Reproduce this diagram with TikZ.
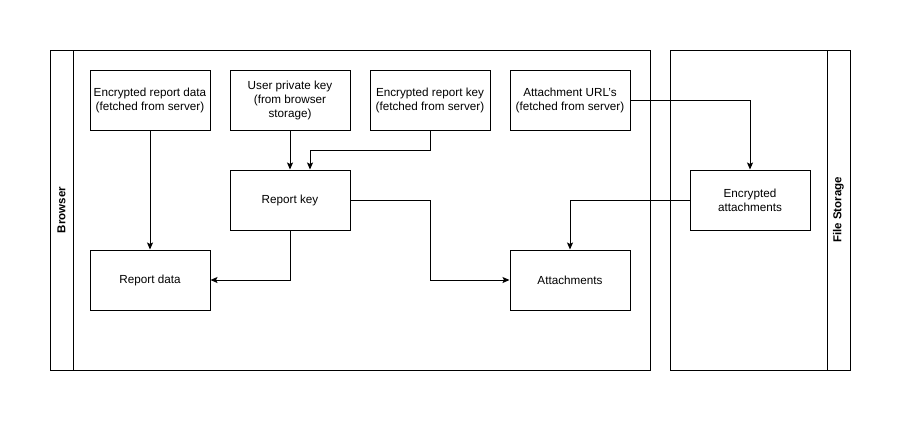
\documentclass[tikz,border=0pt]{standalone}
\usepackage{fontspec}
\setmainfont{Liberation Sans}
\usetikzlibrary{arrows.meta}
\begin{document}
\begin{tikzpicture}[x=1pt,y=-1pt,line width=1pt,
  box/.style={draw,minimum width=120pt,minimum height=60pt,align=center,font=\fontsize{11.7}{14}\selectfont,inner sep=0pt},
  conn/.style={draw,-{Stealth[length=7pt,width=6pt,inset=1.5pt]}},
  lane/.style={font=\bfseries\fontsize{11.5}{14}\selectfont,rotate=90}]
\useasboundingbox (0,0) rectangle (901,421);
% pools
\draw (50,50) rectangle (650,370);
\draw (73,50) -- (73,370);
\node[lane] (browser) at (61.5,210) {Browser};
\draw (670,50) rectangle (850,370);
\draw (827,50) -- (827,370);
\node[lane] (fs) at (838.5,210) {File Storage};
% boxes
\node[box] (erd) at (150,100) {Encrypted report data\\(fetched from server)};
\node[box] (upk) at (290,100) {User private key\\(from browser\\storage)};
\node[box] (erk) at (430,100) {Encrypted report key\\(fetched from server)};
\node[box] (au) at (570,100) {Attachment URL's\\(fetched from server)};
\node[box] (rk) at (290,200) {Report key};
\node[box] (rd) at (150,280) {Report data};
\node[box] (att) at (570,280) {Attachments};
\node[box] (ea) at (750,200) {Encrypted\\attachments};
% connectors
\draw[conn] (erd.south) -- (rd.north);
\draw[conn] (upk.south) -- (rk.north);
\draw[conn] (erk.south) |- ([xshift=20pt]rk.north |- 0,150) -- ([xshift=20pt]rk.north);
\draw[conn] (au.east) -| (ea.north);
\draw[conn] (rk.south) |- (rd.east);
\draw[conn] (rk.east) -- (430,200) |- (att.west);
\draw[conn] (ea.west) -| (att.north);
\end{tikzpicture}
\end{document}
